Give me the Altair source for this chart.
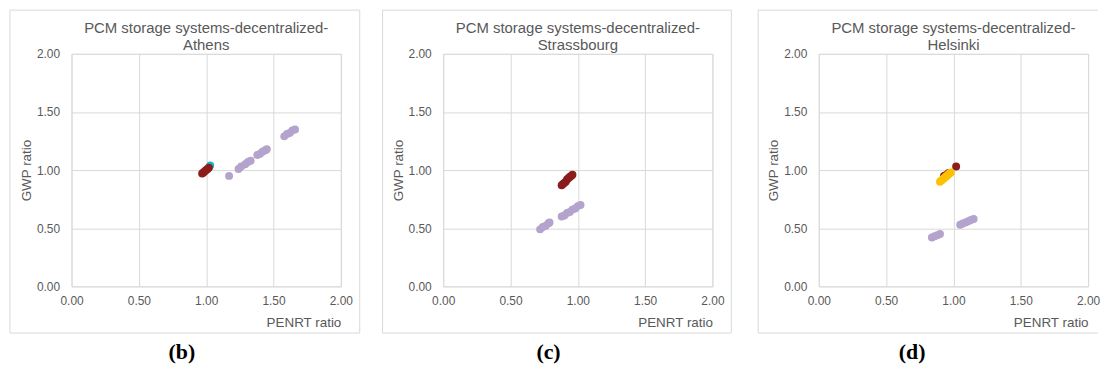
import altair as alt
import pandas as pd

# ---- data ----
cities = ["Athens", "Strassbourg", "Helsinki"]
title_line = "PCM storage systems-decentralized-"
panel_labels = ["(b)", "(c)", "(d)"]

# Athens
ath_purple_x = [1.17, 1.24, 1.26, 1.29, 1.31, 1.33, 1.38, 1.40, 1.42, 1.44, 1.45, 1.58, 1.60, 1.62, 1.64, 1.66]
ath_purple_y = [0.95, 1.01, 1.03, 1.05, 1.07, 1.08, 1.13, 1.14, 1.16, 1.17, 1.18, 1.29, 1.31, 1.32, 1.34, 1.35]
ath_cyan_x = [1.03]
ath_cyan_y = [1.04]
ath_maroon_x = [0.97, 0.98, 0.99, 1.00, 1.01, 1.02]
ath_maroon_y = [0.97, 0.98, 0.99, 1.00, 1.01, 1.02]

# Strassbourg
str_purple_x = [0.72, 0.74, 0.76, 0.78, 0.79, 0.88, 0.90, 0.92, 0.94, 0.96, 0.98, 1.00, 1.02]
str_purple_y = [0.49, 0.51, 0.52, 0.54, 0.55, 0.60, 0.61, 0.63, 0.64, 0.66, 0.67, 0.69, 0.70]
str_maroon_x = [0.88, 0.89, 0.90, 0.91, 0.92, 0.93, 0.94, 0.95, 0.96]
str_maroon_y = [0.87, 0.88, 0.89, 0.90, 0.92, 0.93, 0.94, 0.95, 0.96]

# Helsinki
hel_purple_x = [0.84, 0.86, 0.88, 0.90, 1.05, 1.07, 1.09, 1.11, 1.13, 1.15]
hel_purple_y = [0.42, 0.43, 0.44, 0.45, 0.53, 0.54, 0.55, 0.56, 0.57, 0.58]
hel_maroon_x = [0.93, 0.95, 0.965, 1.02]
hel_maroon_y = [0.95, 0.96, 0.975, 1.03]
hel_yellow_x = [0.90, 0.91, 0.92, 0.93, 0.94, 0.95, 0.96, 0.97, 0.98]
hel_yellow_y = [0.90, 0.91, 0.92, 0.93, 0.94, 0.95, 0.96, 0.97, 0.98]

series_names = ["purple", "cyan", "maroon", "yellow"]
series_colors = ["#B4A3CC", "#1FB4D0", "#8C1D1D", "#FFC000"]
ticks = [0, 0.5, 1.0, 1.5, 2.0]

def rows(city, series, xs, ys, order):
    return [{"city": city, "series": series, "x": a, "y": b, "order": order} for a, b in zip(xs, ys)]

data = pd.DataFrame(
    rows("Athens", "purple", ath_purple_x, ath_purple_y, 0)
    + rows("Athens", "cyan", ath_cyan_x, ath_cyan_y, 1)
    + rows("Athens", "maroon", ath_maroon_x, ath_maroon_y, 2)
    + rows("Strassbourg", "purple", str_purple_x, str_purple_y, 0)
    + rows("Strassbourg", "maroon", str_maroon_x, str_maroon_y, 1)
    + rows("Helsinki", "purple", hel_purple_x, hel_purple_y, 0)
    + rows("Helsinki", "maroon", hel_maroon_x, hel_maroon_y, 1)
    + rows("Helsinki", "yellow", hel_yellow_x, hel_yellow_y, 2)
)

GRAY = "#595959"
FRAME = "#d9d9d9"
FONT = "Liberation Sans"

frame_left = [-62, -61, -61]
frame_right = [290, 290, 281]     # third panel's right edge runs off the page
extent_right = [290, 294, 281]
draw_right_side = [True, True, False]
label_x = [111, 106, 94]

panels = []
for i, city in enumerate(cities):
    sub = data[data.city == city]
    pts = alt.Chart(sub).mark_circle(size=64, opacity=1).encode(
        x=alt.X("x:Q", scale=alt.Scale(domain=[0, 2], nice=False, zero=False),
                axis=alt.Axis(values=ticks, format=".2f", title="PENRT ratio",
                              titleAnchor="end", titlePadding=9, labelPadding=9,
                              ticks=False, domain=False, grid=True, gridColor=FRAME,
                              labelColor=GRAY, titleColor=GRAY, labelFont=FONT, titleFont=FONT,
                              labelFontSize=12, titleFontSize=13.5, titleFontWeight="normal",
                              labelFlush=False)),
        y=alt.Y("y:Q", scale=alt.Scale(domain=[0, 2], nice=False, zero=False),
                axis=alt.Axis(values=ticks, format=".2f", title="GWP ratio",
                              titlePadding=3, labelPadding=12,
                              ticks=False, domain=False, grid=True, gridColor=FRAME,
                              labelColor=GRAY, titleColor=GRAY, labelFont=FONT, titleFont=FONT,
                              labelFontSize=12, titleFontSize=13.5, titleFontWeight="normal",
                              labelFlush=False)),
        color=alt.Color("series:N", scale=alt.Scale(domain=series_names, range=series_colors), legend=None),
        order=alt.Order("order:Q"),
    )
    one = alt.Chart(pd.DataFrame({"k": [0]}))
    spacer = one.mark_rect(opacity=0).encode(
        x=alt.value(frame_left[i]), x2=alt.value(extent_right[i]), y=alt.value(0), y2=alt.value(10)
    )
    L, R, T, B = frame_left[i], frame_right[i], -44, 281
    edges = [
        one.mark_rule(color=FRAME, strokeWidth=1).encode(x=alt.value(L), x2=alt.value(R), y=alt.value(T)),
        one.mark_rule(color=FRAME, strokeWidth=1).encode(x=alt.value(L), x2=alt.value(R), y=alt.value(B)),
        one.mark_rule(color=FRAME, strokeWidth=1).encode(x=alt.value(L), y=alt.value(T), y2=alt.value(B)),
    ]
    if draw_right_side[i]:
        edges.append(one.mark_rule(color=FRAME, strokeWidth=1).encode(
            x=alt.value(R), y=alt.value(T), y2=alt.value(B)))
    t1 = one.mark_text(text=title_line, font=FONT, fontSize=15, color=GRAY,
                       baseline="middle", align="center").encode(
        x=alt.value(135.5), y=alt.value(-26)
    )
    t2 = one.mark_text(text=city, font=FONT, fontSize=15, color=GRAY,
                       baseline="middle", align="center").encode(
        x=alt.value(135.5), y=alt.value(-9)
    )
    lab = one.mark_text(text=panel_labels[i], font="Liberation Serif", fontWeight="bold",
                        fontSize=22, color="#000000", baseline="middle", align="center").encode(
        x=alt.value(label_x[i]), y=alt.value(300)
    )
    panel = alt.layer(spacer, *edges, pts, t1, t2, lab).properties(width=271, height=234)
    panels.append(panel)

chart = alt.hconcat(*panels, spacing=21).properties(
    padding={"left": 9, "top": 8, "right": 0, "bottom": 0}
).configure_view(stroke=None).configure(background="white")

chart.save("out.html", embed_options={"renderer": "svg", "actions": False})
